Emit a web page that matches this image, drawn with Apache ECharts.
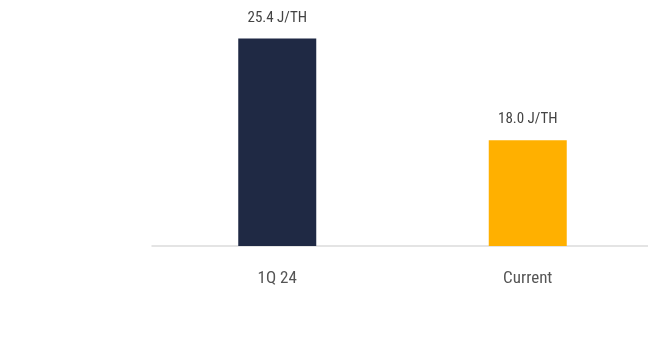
<!DOCTYPE html>
<html><head><meta charset="utf-8">
<script src="https://cdn.jsdelivr.net/npm/echarts@6/dist/echarts.min.js"></script>
<style>html,body{margin:0;padding:0;background:#fff}#c{width:648px;height:343px}</style>
</head><body><div id="c"></div>
<script>
const categories = ['1Q 24', 'Current'];
const values = [25.4, 18.0];
const labels = ['25.4 J/TH', '18.0 J/TH'];
const colors = ['#1f2944', '#ffb000'];

const FONT = '"Liberation Sans Narrow", "Roboto Condensed", "Liberation Sans", sans-serif';
const chart = echarts.init(document.getElementById('c'));
chart.setOption({
  animation: false,
  backgroundColor: '#ffffff',
  grid: { left: 152, width: 501, top: 0, height: 246, outerBoundsMode: 'none', containLabel: false },
  xAxis: {
    type: 'category', data: categories,
    axisLine: { show: true, lineStyle: { color: '#dcdcdc', width: 1.5 } },
    axisTick: { show: false },
    axisLabel: { margin: 24, fontSize: 17, color: '#555', fontFamily: FONT }
  },
  yAxis: { type: 'value', min: 10.3, max: 28.2, show: false, splitLine: { show: false } },
  series: [{
    type: 'bar', barWidth: 78,
    data: values.map((v, i) => ({ value: v, itemStyle: { color: colors[i] },
      label: { formatter: labels[i] } })),
    label: { show: true, position: 'top', distance: 13, fontSize: 15, color: '#444', fontFamily: FONT }
  }]
});
</script></body></html>
